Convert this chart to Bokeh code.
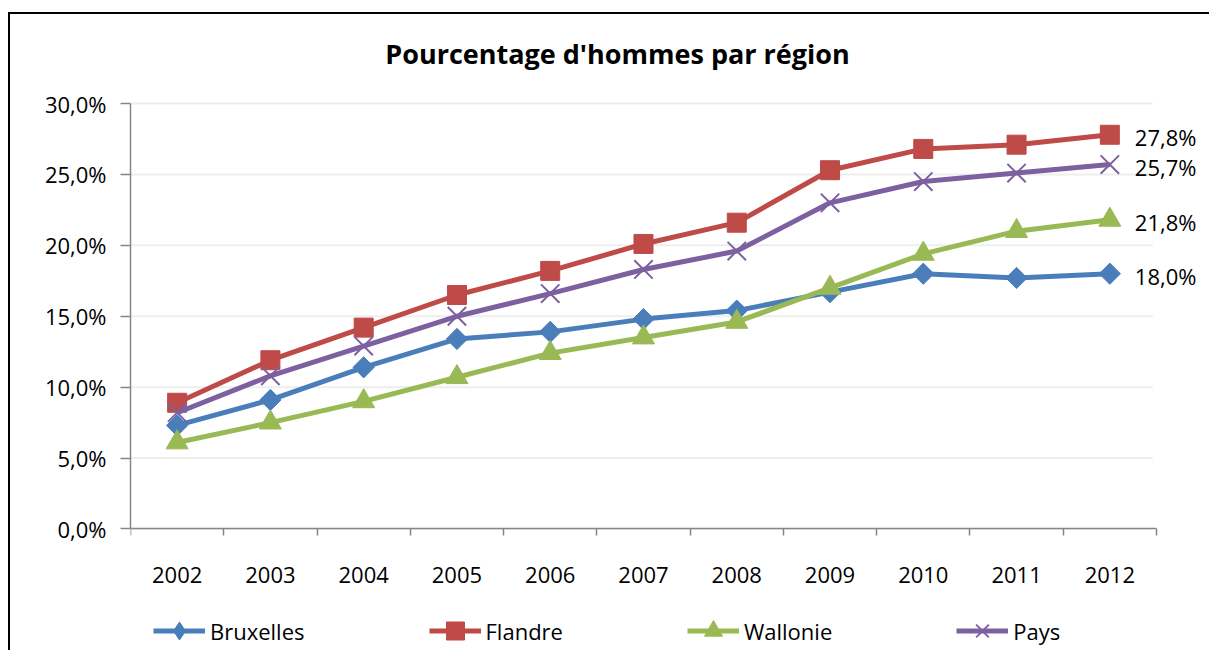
import math
from bokeh.plotting import figure
from bokeh.models import FixedTicker, ColumnDataSource, LabelSet, Legend, Label
from bokeh.core.properties import value
from bokeh.embed import file_html
from bokeh.resources import INLINE

title_text = "Pourcentage d'hommes par région"
years = [2002, 2003, 2004, 2005, 2006, 2007, 2008, 2009, 2010, 2011, 2012]
bruxelles = [7.3, 9.1, 11.4, 13.4, 13.9, 14.8, 15.4, 16.7, 18.0, 17.7, 18.0]
flandre = [8.9, 11.9, 14.2, 16.5, 18.2, 20.1, 21.6, 25.3, 26.8, 27.1, 27.8]
wallonie = [6.1, 7.5, 9.0, 10.7, 12.4, 13.5, 14.6, 17.0, 19.4, 21.0, 21.8]
pays = [8.2, 10.8, 12.9, 15.0, 16.6, 18.3, 19.6, 23.0, 24.5, 25.1, 25.7]
series_names = ["Bruxelles", "Flandre", "Wallonie", "Pays"]
y_ticks = [0, 5, 10, 15, 20, 25, 30]
y_tick_labels = ["0,0%", "5,0%", "10,0%", "15,0%", "20,0%", "25,0%", "30,0%"]

FONT = "Open Sans"
colors = ["#4A7EBB", "#BE4B48", "#98B954", "#7D60A0"]

x_lo = years[0] - 0.5
x_hi = years[-1] + 0.5

p = figure(width=1201, height=638, output_backend="svg", toolbar_location=None,
           x_range=(x_lo, 2013.09), y_range=(-8.71, 36.28),
           min_border_left=120, min_border_right=0, min_border_top=0, min_border_bottom=0)
p.styles = {"border-left": "2px solid #000", "border-top": "2px solid #000"}
p.margin = (12, 0, 0, 8)

p.outline_line_color = None
p.xgrid.grid_line_color = None
p.ygrid.grid_line_color = None

# title drawn as a label above the 30% line
p.add_layout(Label(x=(x_lo + x_hi) / 2, y=y_ticks[-1], x_offset=-26, y_offset=50,
                   text=title_text, text_font=FONT, text_font_size="27px",
                   text_font_style="bold", text_align="center", text_baseline="middle",
                   text_color="#000000"))

# horizontal gridlines limited to the category span
n = len(y_ticks)
p.segment(x0=[x_lo] * n, x1=[x_hi - 0.04] * n, y0=y_ticks, y1=y_ticks,
          line_color="#eeeeee", line_width=2)

p.yaxis.bounds = (y_ticks[0], y_ticks[-1])
p.yaxis.ticker = FixedTicker(ticks=y_ticks)
p.yaxis.major_label_overrides = {t: l for t, l in zip(y_ticks, y_tick_labels)}
p.yaxis.major_tick_out = 10
p.yaxis.major_tick_in = 0
p.yaxis.minor_tick_out = 0
p.yaxis.minor_tick_in = 0
p.yaxis.major_label_standoff = 14

p.xaxis.fixed_location = 0
p.xaxis.bounds = (x_lo, x_hi)
p.xaxis.ticker = FixedTicker(ticks=years, minor_ticks=[y - 0.5 for y in years] + [x_hi])
p.xaxis.major_label_overrides = {y: str(y) for y in years}
p.xaxis.major_tick_out = 0
p.xaxis.major_tick_in = 0
p.xaxis.minor_tick_out = 7
p.xaxis.minor_tick_in = 0
p.xaxis.major_label_standoff = 31

for ax in (p.xaxis[0], p.yaxis[0]):
    ax.axis_line_color = "#868686"
    ax.axis_line_width = 1.5
    ax.major_tick_line_color = "#868686"
    ax.minor_tick_line_color = "#868686"
    ax.major_tick_line_width = 1.5
    ax.minor_tick_line_width = 1.5
    ax.major_label_text_font = FONT
    ax.major_label_text_font_size = "22px"
    ax.major_label_text_color = "#000000"

data = [bruxelles, flandre, wallonie, pays]
items = []
for name, vals, col in zip(series_names, data, colors):
    r1 = p.line(years, vals, line_color=col, line_width=5)
    if name == "Bruxelles":
        r2 = p.scatter(years, vals, marker="square", angle=math.pi / 4, size=15,
                       fill_color=col, line_color=col)
        # legend-only diamond (the legend ignores marker angles)
        r3 = p.scatter(years, vals, marker="diamond", size=15, fill_color=col, line_color=col)
        r3.visible = False
        items.append((name, [r1, r3]))
        continue
    elif name == "Flandre":
        r2 = p.scatter(years, vals, marker="square", size=19, fill_color=col, line_color=col)
    elif name == "Wallonie":
        r2 = p.scatter(years, vals, marker="triangle", size=22, fill_color=col, line_color=col)
    else:
        r2 = p.scatter(years, vals, marker="x", size=26, line_color=col, line_width=2)
    items.append((name, [r1, r2]))

end_src = ColumnDataSource(dict(
    x=[years[-1]] * 4,
    y=[v[-1] for v in data],
    t=[f"{v[-1]:.1f}".replace(".", ",") + "%" for v in data],
))
p.add_layout(LabelSet(x="x", y="y", text="t", source=end_src, x_offset=25, y_offset=-2,
                      text_font=value(FONT), text_font_size=value("22px"),
                      text_baseline="middle", text_color="#000000"))

legend = Legend(items=items, orientation="horizontal", location=(23, -1),
                glyph_width=52, glyph_height=45, label_standoff=5, spacing=124,
                padding=0, margin=0, border_line_color=None, background_fill_alpha=0,
                inactive_fill_alpha=0,
                label_text_font=FONT, label_text_font_size="22px", label_text_color="#000000")
p.add_layout(legend, "center")

open("out.html", "w").write(file_html(p, INLINE))
